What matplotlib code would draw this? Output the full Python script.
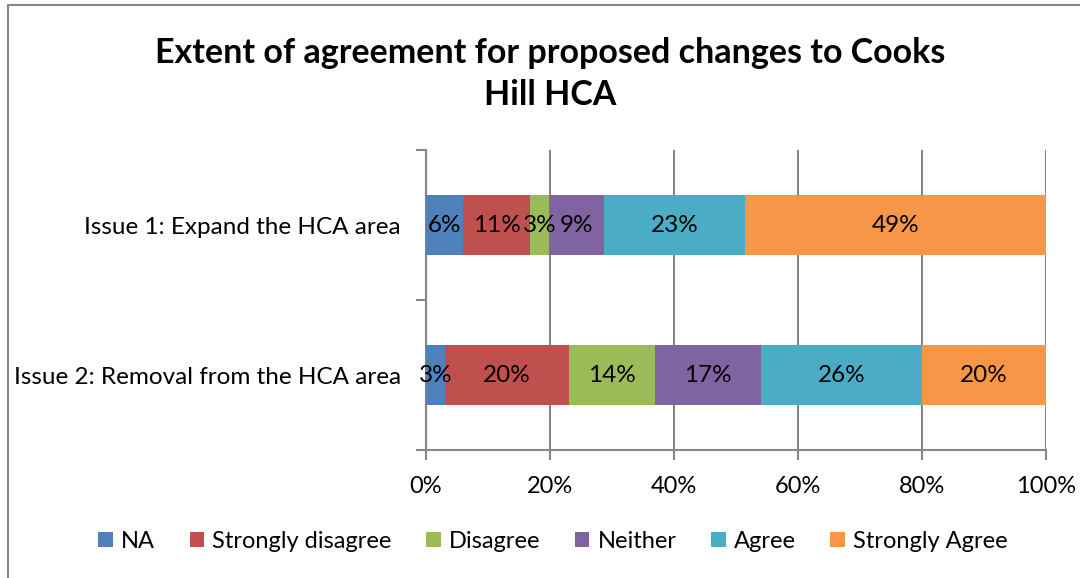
import matplotlib
matplotlib.use("Agg")
import matplotlib.pyplot as plt
import numpy as np
from matplotlib.patches import Rectangle

plt.rcParams['font.family'] = ['Lato', 'DejaVu Sans']

categories = ["Issue 1: Expand the HCA area", "Issue 2: Removal from the HCA area"]
series = ["NA", "Strongly disagree", "Disagree", "Neither", "Agree", "Strongly Agree"]
colors = ["#4F81BD", "#C0504D", "#9BBB59", "#8064A2", "#4BACC6", "#F79646"]
values = {
    "NA": [6, 3],
    "Strongly disagree": [11, 20],
    "Disagree": [3, 14],
    "Neither": [9, 17],
    "Agree": [23, 26],
    "Strongly Agree": [49, 20],
}
xticks = [0, 20, 40, 60, 80, 100]
xticklabels = ["0%", "20%", "40%", "60%", "80%", "100%"]

W, H = 1080, 578
fig = plt.figure(figsize=(W / 100, H / 100), dpi=100)
fig.patches.append(Rectangle((8 / W, -0.1), 1.2, (H - 5) / H + 0.1, transform=fig.transFigure,
                             fill=False, edgecolor="#868686", linewidth=1.5))

ax = fig.add_axes([426 / W, 1 - 450 / H, 620 / W, 300 / H])

mat = np.array([values[s] for s in series], dtype=float)
totals = mat.sum(axis=0)
pct = mat / totals * 100
ypos = np.array([1, 0])
left = np.zeros(len(categories))
for i, s in enumerate(series):
    ax.barh(ypos, pct[i], left=left, height=0.4, color=colors[i], label=s, zorder=3)
    for j in range(len(categories)):
        ax.text(left[j] + pct[i][j] / 2, ypos[j],
                f"{int(mat[i][j])}%", ha="center", va="center", fontsize=17.5, zorder=4)
    left += pct[i]

ax.set_xlim(0, 100)
ax.set_ylim(-0.5, 1.5)
ax.set_xticks(xticks)
ax.set_xticklabels(xticklabels, fontsize=17)
ax.set_yticks([-0.5, 0.5, 1.5])
ax.set_yticklabels([])
ax.set_yticks(ypos, minor=True)
ax.set_yticklabels(categories, minor=True, fontsize=17.5)
ax.tick_params(axis="y", which="minor", length=0, pad=18)
ax.tick_params(axis="y", which="major", length=7, color="#868686", width=1.5)
ax.tick_params(axis="x", length=7, color="#868686", width=1.5, pad=12)
ax.grid(axis="x", color="#868686", linewidth=1.5, zorder=0)
for sp in ["top", "right"]:
    ax.spines[sp].set_visible(False)
for sp in ["left", "bottom"]:
    ax.spines[sp].set_color("#868686")
    ax.spines[sp].set_linewidth(1.5)

fig.text(550 / W, 1 - 74 / H, "Extent of agreement for proposed changes to Cooks\nHill HCA",
         ha="center", va="center", fontsize=24.5, fontweight="bold", linespacing=1.42)

fig.legend(loc="center", bbox_to_anchor=(553 / W, 1 - 541 / H), ncol=6, frameon=False,
           fontsize=17, handlelength=0.62, handleheight=0.62, handletextpad=0.35, columnspacing=1.45)

fig.savefig("out.png", dpi=100)
